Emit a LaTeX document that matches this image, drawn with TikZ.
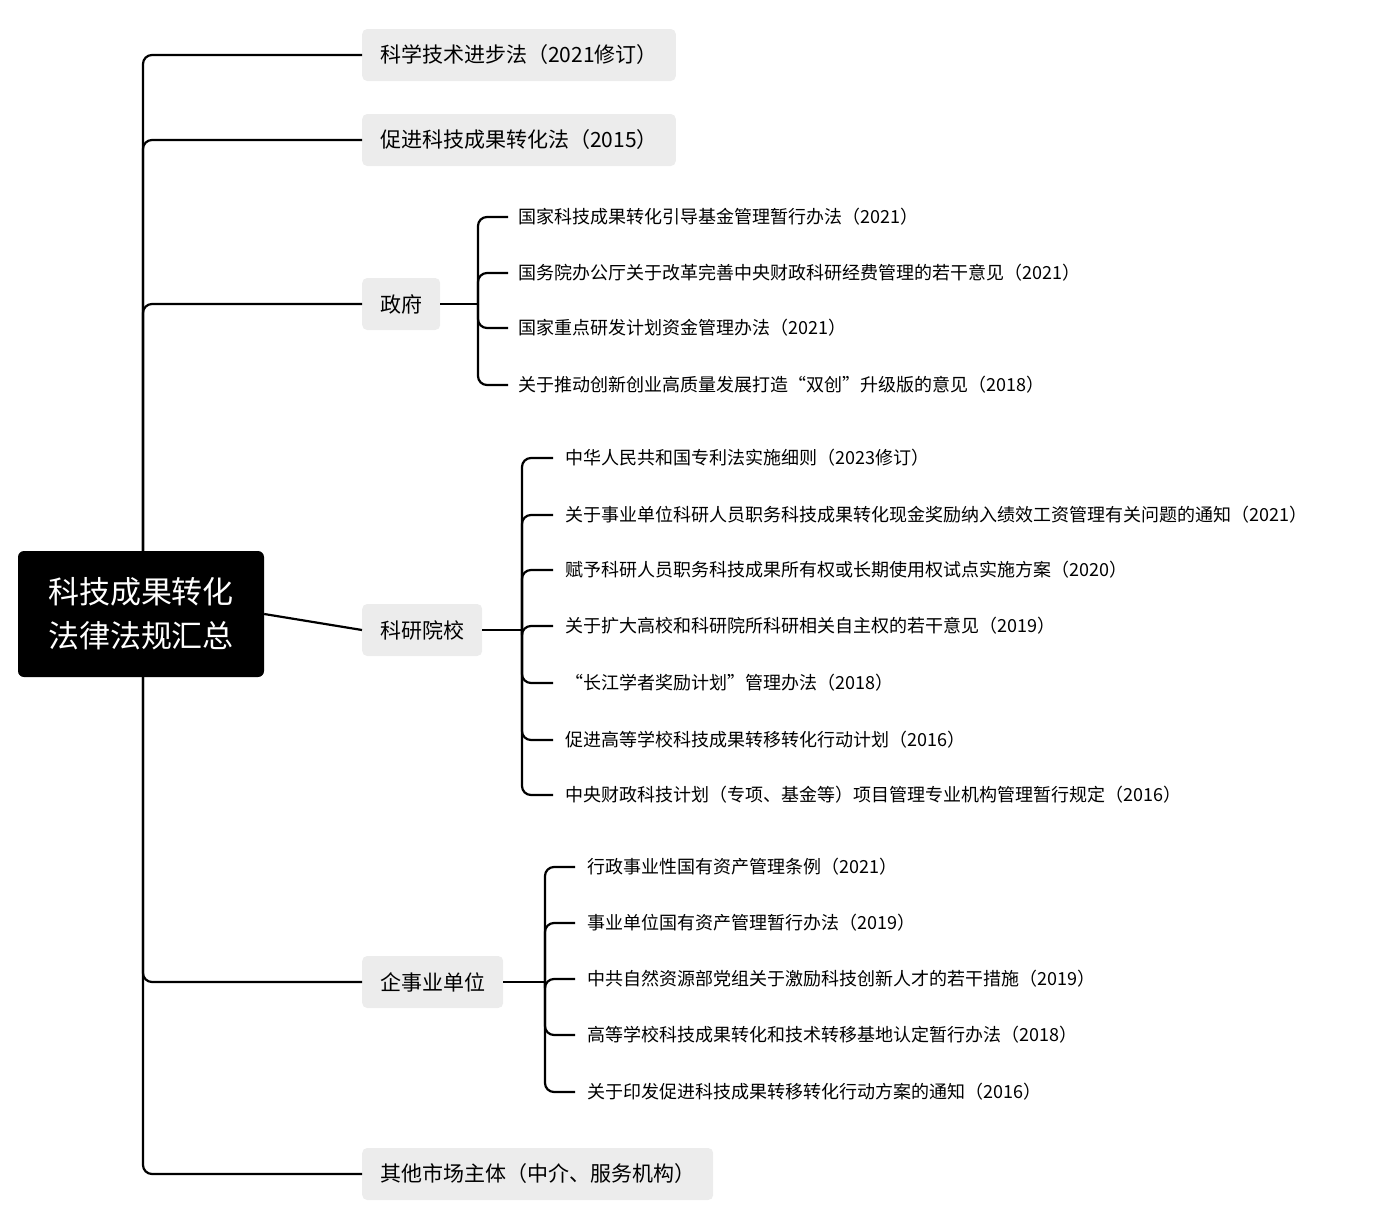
\documentclass[tikz,border=0pt]{standalone}
\usepackage{fontspec}
\setmainfont{Noto Sans CJK SC}
\begin{document}
\begin{tikzpicture}[x=1pt,y=-1pt,
  lone/.style={fill=gray!15,rounded corners=5pt,anchor=west,inner xsep=18pt,minimum height=52pt,font=\fontsize{21}{25}\selectfont},
  leaf/.style={anchor=west,inner sep=0pt,font=\fontsize{18}{22}\selectfont},
  conn/.style={line width=2.2pt,rounded corners=9pt}]
\useasboundingbox (0,0) rectangle (1382,1224);
\node[lone] (a) at (362,55) {科学技术进步法（2021修订）};
\node[lone] (b) at (362,140) {促进科技成果转化法（2015）};
\node[lone] (g) at (362,304) {政府};
\node[lone] (r) at (362,630) {科研院校};
\node[lone] (e) at (362,982) {企事业单位};
\node[lone] (o) at (362,1174) {其他市场主体（中介、服务机构）};
\draw[conn] (143,560) |- (a.west);
\draw[conn] (143,560) |- (b.west);
\draw[conn] (143,560) |- (g.west);
\draw[conn] (143,660) |- (e.west);
\draw[conn] (143,660) |- (o.west);
\node[fill=black,text=white,rounded corners=6pt,minimum width=246pt,minimum height=126pt,align=left,font=\fontsize{31}{44}\selectfont] (root) at (141,614) {科技成果转化\\法律法规汇总};
\draw[conn] (root.east) -- (r.west);
% gov
\coordinate (gj) at (478,304);
\draw[conn] (g.east) -- (gj);
\foreach \yy/\t [count=\i] in {217/国家科技成果转化引导基金管理暂行办法（2021）,273/国务院办公厅关于改革完善中央财政科研经费管理的若干意见（2021）,328/国家重点研发计划资金管理办法（2021）,385/关于推动创新创业高质量发展打造“双创”升级版的意见（2018）}{
  \node[leaf] (g\i) at (518,\yy) {\t};
  \draw[conn] (gj) |- ([xshift=-10pt]g\i.west);
}
% research
\coordinate (rj) at (522,630);
\draw[conn] (r.east) -- (rj);
\foreach \yy/\t [count=\i] in {458/中华人民共和国专利法实施细则（2023修订）,515/关于事业单位科研人员职务科技成果转化现金奖励纳入绩效工资管理有关问题的通知（2021）,570/赋予科研人员职务科技成果所有权或长期使用权试点实施方案（2020）,626/关于扩大高校和科研院所科研相关自主权的若干意见（2019）,683/“长江学者奖励计划”管理办法（2018）,740/促进高等学校科技成果转移转化行动计划（2016）,795/中央财政科技计划（专项、基金等）项目管理专业机构管理暂行规定（2016）}{
  \node[leaf] (r\i) at (565,\yy) {\t};
  \draw[conn] (rj) |- ([xshift=-12pt]r\i.west);
}
% enterprise
\coordinate (ej) at (545,982);
\draw[conn] (e.east) -- (ej);
\foreach \yy/\t [count=\i] in {867/行政事业性国有资产管理条例（2021）,923/事业单位国有资产管理暂行办法（2019）,979/中共自然资源部党组关于激励科技创新人才的若干措施（2019）,1035/高等学校科技成果转化和技术转移基地认定暂行办法（2018）,1092/关于印发促进科技成果转移转化行动方案的通知（2016）}{
  \node[leaf] (e\i) at (587,\yy) {\t};
  \draw[conn] (ej) |- ([xshift=-12pt]e\i.west);
}
\end{tikzpicture}
\end{document}
